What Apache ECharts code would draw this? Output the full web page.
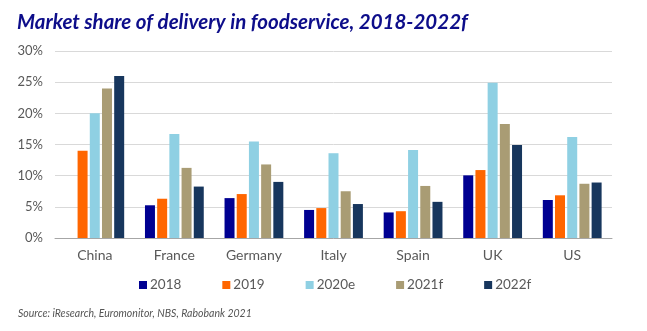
<!DOCTYPE html>
<html><head><meta charset="utf-8">
<script src="https://cdn.jsdelivr.net/npm/echarts@6/dist/echarts.min.js"></script>
<style>html,body{margin:0;padding:0;background:#fff}#c{width:647px;height:331px}</style>
</head><body><div id="c"></div>
<script>
const categories = ['China','France','Germany','Italy','Spain','UK','US'];
const seriesNames = ['2018','2019','2020e','2021f','2022f'];
const v2018  = [null, 5.25, 6.4, 4.5, 4.1, 10.05, 6.1];
const v2019  = [14.0, 6.3, 7.05, 4.8, 4.3, 10.9, 6.85];
const v2020e = [20.0, 16.7, 15.5, 13.6, 14.1, 24.9, 16.2];
const v2021f = [24.0, 11.25, 11.8, 7.5, 8.35, 18.3, 8.7];
const v2022f = [26.0, 8.25, 9.0, 5.45, 5.8, 14.9, 8.9];
const yTicks = [0,5,10,15,20,25,30];
const colors = ['#000091','#ff6600','#8fd0e3','#a99c74','#17365d'];
const data = [v2018, v2019, v2020e, v2021f, v2022f];
const font = 'Lato';
const chart = echarts.init(document.getElementById('c'), null, {renderer:'canvas'});
chart.setOption({
  animation:false,
  title:[{text:'Market share of delivery in foodservice, 2018-2022f', left:12, top:7,
    textStyle:{color:'#0d0d8a', fontSize:20.5, fontWeight:'bold', fontStyle:'italic', fontFamily:font}},
    {text:'Source: iResearch, Euromonitor, NBS, Rabobank 2021', left:13, top:303,
    textStyle:{color:'#555', fontSize:10.5, fontWeight:'normal', fontStyle:'italic', fontFamily:font}}],
  legend:{data:seriesNames, top:273, left:134, itemWidth:8, itemHeight:8, itemGap:41, icon:'rect',
    textStyle:{color:'#595959', fontSize:13.5, fontFamily:font, padding:[0,0,0,-2]}},
  grid:{left:55, right:35, top:51, bottom:93},
  xAxis:{type:'category', data:categories, axisTick:{show:false},
    axisLine:{lineStyle:{color:'#a6a6a6', width:1}},
    axisLabel:{color:'#595959', fontSize:14, fontFamily:font, margin:10, interval:0}},
  yAxis:{type:'value', min:0, max:30, interval:5,
    axisLabel:{color:'#595959', fontSize:13, fontFamily:font, formatter:v=>v+'%', margin:12},
    splitLine:{lineStyle:{color:'#d9d9d9', width:1}}, axisLine:{show:false}, axisTick:{show:false}},
  series: seriesNames.map((n,i)=>({name:n, type:'bar', data:data[i], barWidth:10, barGap:'22%',
    itemStyle:{color:colors[i]}}))
});
</script></body></html>
